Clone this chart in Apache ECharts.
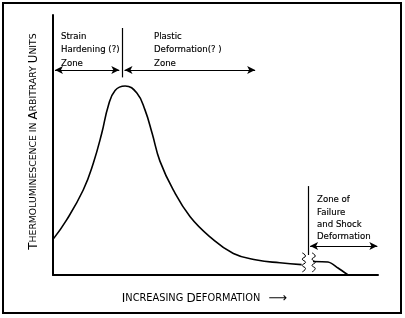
<!DOCTYPE html>
<html>
<head>
<meta charset="utf-8">
<script src="https://cdn.jsdelivr.net/npm/echarts@6/dist/echarts.min.js"></script>
<style>
  html, body { margin: 0; padding: 0; background: #fff; }
  #chart { width: 405px; height: 318px; }
</style>
</head>
<body>
<div id="chart"></div>
<script>
// curve, axis units 0..100 both ways
const curveX = [0, 4.2, 9.3, 12.4, 15, 17, 19.1, 22.2, 25.8, 28.3, 30.5, 32.9, 37, 42.2, 48.3, 55.5, 62.7, 69.8, 76.5];
const curveY = [13.7, 21.2, 32.7, 43, 54.5, 65, 71, 72.7, 70, 63.5, 54.5, 43.8, 32.7, 22.4, 14.7, 8.3, 5.8, 4.7, 4];
const tailX = [80, 84.6, 87.7, 90.8];
const tailY = [5.2, 5, 2.7, 0];
// wavy break marks
const breakY = [8.5, 7.3, 6.1, 4.9, 3.7, 2.5, 1.2];
const breakOffsets = [-0.5, 0.5, -0.5, 0.5, -0.5, 0.5, -0.5];
const break1X = 77.2;
const break2X = 80.2;

const zip = (xs, ys) => xs.map((x, i) => [x, ys[i]]);
const wave = cx => breakY.map((y, i) => [cx + breakOffsets[i], y]);

const black = '#000';
const lineBase = { color: black, width: 1.6 };
const noteStyle = { font: '8.6px "DejaVu Sans"', fill: black, stroke: black, lineWidth: 0.15 };

const chart = echarts.init(document.getElementById('chart'));
chart.setOption({
  animation: false,
  grid: { left: 53, right: 27, top: 15, bottom: 43 },
  xAxis: {
    type: 'value', min: 0, max: 100,
    axisLine: { lineStyle: { color: black, width: 2 } },
    axisTick: { show: false }, axisLabel: { show: false }, splitLine: { show: false },
    name: '{b|I}{s|NCREASING }{b|D}{s|EFORMATION}{a|  ⟶}',
    nameLocation: 'middle', nameGap: 17,
    nameTextStyle: {
      padding: [0, 22, 0, 0],
      rich: {
        b: { fontFamily: 'DejaVu Sans', fontSize: 12, color: black },
        s: { fontFamily: 'DejaVu Sans', fontSize: 9.8, color: black },
        a: { fontFamily: 'DejaVu Sans', fontSize: 13, color: black }
      }
    }
  },
  yAxis: {
    type: 'value', min: 0, max: 100,
    axisLine: { lineStyle: { color: black, width: 2 } },
    axisTick: { show: false }, axisLabel: { show: false }, splitLine: { show: false },
    name: '{b|T}{s|HERMOLUMINESCENCE IN }{b|A}{s|RBITRARY }{b|U}{s|NITS}',
    nameLocation: 'middle', nameGap: 13,
    nameTextStyle: {
      padding: [0, 0, 0, 7],
      rich: {
        b: { fontFamily: 'DejaVu Sans', fontSize: 11.8, color: black },
        s: { fontFamily: 'DejaVu Sans', fontSize: 9.3, color: black }
      }
    }
  },
  series: [
    {
      type: 'line', data: zip(curveX, curveY), smooth: 0.45,
      symbol: 'none', lineStyle: lineBase, silent: true,
      markLine: {
        silent: true, animation: false,
        symbol: ['arrow', 'arrow'], symbolSize: [6, 8],
        label: { show: false },
        lineStyle: { color: black, width: 1.2, type: 'solid' },
        data: [
          [{ coord: [0.6, 78.8] }, { coord: [20.4, 78.8] }],
          [{ coord: [22, 78.8] }, { coord: [62.2, 78.8] }],
          [{ coord: [21.2, 95], symbol: 'none' }, { coord: [21.2, 76], symbol: 'none' }],
          [{ coord: [78.5, 34.2], symbol: 'none' }, { coord: [78.5, 7.7], symbol: 'none' }],
          [{ coord: [79.1, 11.2] }, { coord: [99.8, 11.2] }]
        ]
      }
    },
    { type: 'line', data: zip(tailX, tailY), smooth: 0.3, symbol: 'none', lineStyle: lineBase, silent: true },
    { type: 'line', data: wave(break1X), smooth: true, symbol: 'none', lineStyle: { color: black, width: 1 }, silent: true },
    { type: 'line', data: wave(break2X), smooth: true, symbol: 'none', lineStyle: { color: black, width: 1 }, silent: true }
  ],
  graphic: [
    { type: 'rect', shape: { x: 3, y: 3, width: 398, height: 310 }, style: { fill: 'none', stroke: black, lineWidth: 2 }, silent: true },
    { type: 'text', x: 61, y: 30, style: Object.assign({ text: 'Strain\nHardening (?)\nZone', lineHeight: 13.5 }, noteStyle) },
    { type: 'text', x: 154, y: 30, style: Object.assign({ text: 'Plastic\nDeformation(? )\nZone', lineHeight: 13.5 }, noteStyle) },
    { type: 'text', x: 317, y: 194, style: Object.assign({ text: 'Zone of\nFailure\nand Shock\nDeformation', lineHeight: 12.3 }, noteStyle) }
  ]
});
</script>
</body>
</html>
